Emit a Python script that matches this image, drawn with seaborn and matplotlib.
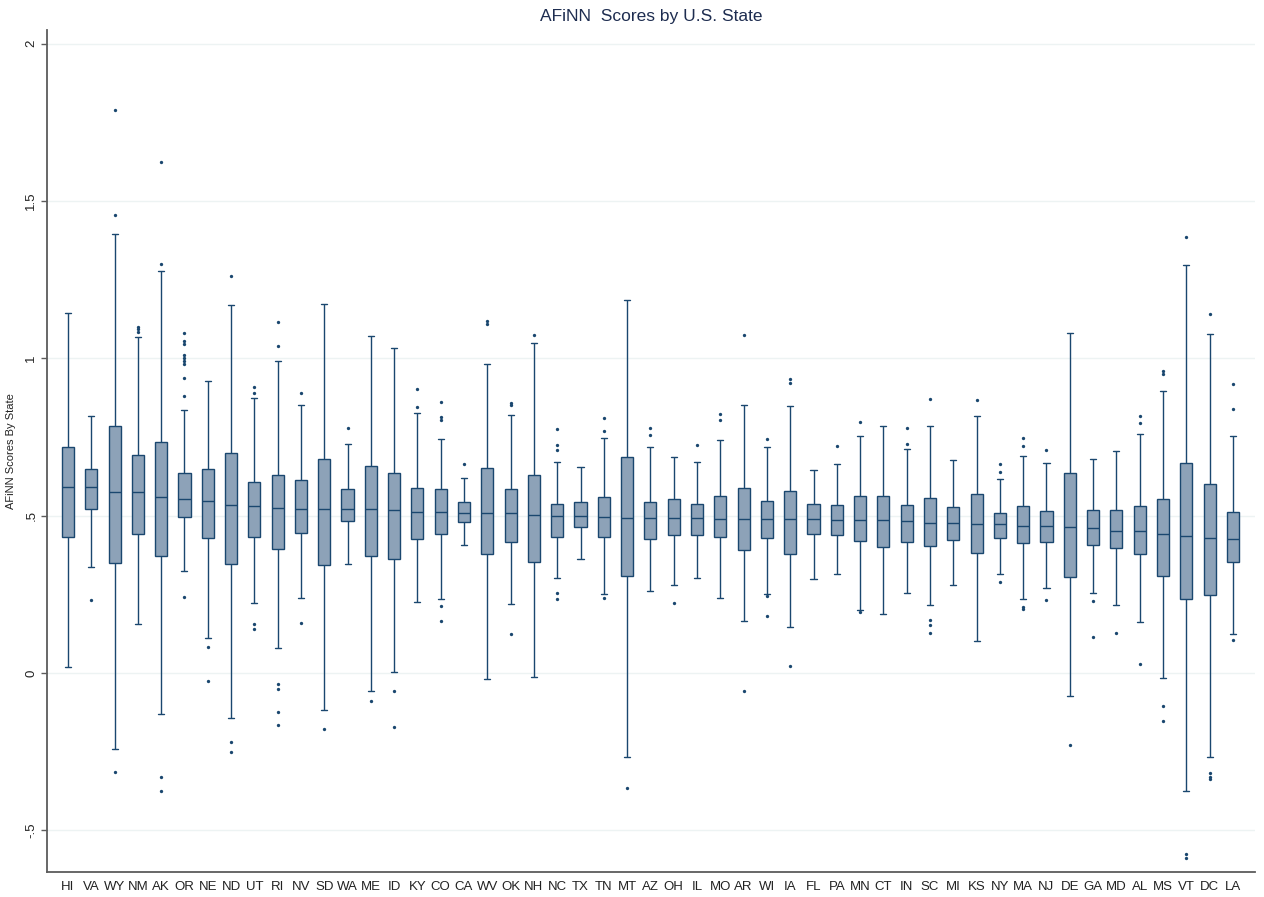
import numpy as np
import pandas as pd
import matplotlib
matplotlib.use("Agg")
import matplotlib.pyplot as plt
import seaborn as sns

states = ["HI","VA","WY","NM","AK","OR","NE","ND","UT","RI","NV","SD","WA","ME","ID","KY","CO","CA",
          "WV","OK","NH","NC","TX","TN","MT","AZ","OH","IL","MO","AR","WI","IA","FL","PA","MN","CT",
          "IN","SC","MI","KS","NY","MA","NJ","DE","GA","MD","AL","MS","VT","DC","LA"]

whisker_low = [0.018, 0.338, -0.240, 0.157, -0.129, 0.324, 0.112, -0.144, 0.223, 0.079, 0.239, -0.118,
               0.345, -0.058, 0.003, 0.226, 0.236, 0.408, -0.020, 0.220, -0.012, 0.303, 0.361, 0.252,
               -0.266, 0.262, 0.281, 0.303, 0.238, 0.166, 0.250, 0.146, 0.300, 0.315, 0.200, 0.187,
               0.255, 0.217, 0.281, 0.101, 0.316, 0.236, 0.270, -0.073, 0.253, 0.216, 0.161, -0.016,
               -0.376, -0.266, 0.125]
quart1 = [0.431, 0.520, 0.350, 0.442, 0.372, 0.495, 0.429, 0.346, 0.432, 0.393, 0.444, 0.342,
          0.483, 0.373, 0.361, 0.426, 0.441, 0.479, 0.379, 0.417, 0.353, 0.433, 0.465, 0.433,
          0.307, 0.427, 0.438, 0.438, 0.431, 0.391, 0.429, 0.379, 0.441, 0.439, 0.419, 0.402,
          0.417, 0.404, 0.423, 0.381, 0.430, 0.413, 0.415, 0.305, 0.406, 0.397, 0.379, 0.307,
          0.235, 0.247, 0.352]
medians = [0.591, 0.590, 0.574, 0.574, 0.560, 0.554, 0.547, 0.534, 0.530, 0.523, 0.522, 0.522,
           0.522, 0.520, 0.518, 0.513, 0.511, 0.508, 0.508, 0.507, 0.501, 0.499, 0.499, 0.495,
           0.493, 0.494, 0.494, 0.492, 0.490, 0.488, 0.488, 0.488, 0.488, 0.485, 0.485, 0.485,
           0.483, 0.478, 0.476, 0.473, 0.473, 0.468, 0.466, 0.464, 0.462, 0.451, 0.450, 0.441,
           0.434, 0.430, 0.426]
quart3 = [0.719, 0.648, 0.786, 0.694, 0.733, 0.637, 0.647, 0.699, 0.608, 0.630, 0.613, 0.679,
          0.584, 0.659, 0.637, 0.589, 0.584, 0.543, 0.652, 0.585, 0.630, 0.537, 0.543, 0.558,
          0.686, 0.545, 0.553, 0.538, 0.561, 0.588, 0.547, 0.577, 0.537, 0.533, 0.563, 0.562,
          0.534, 0.555, 0.528, 0.568, 0.509, 0.532, 0.515, 0.635, 0.518, 0.518, 0.532, 0.554,
          0.667, 0.600, 0.513]
whisker_high = [1.143, 0.816, 1.396, 1.067, 1.278, 0.836, 0.929, 1.168, 0.874, 0.991, 0.852, 1.174,
                0.729, 1.070, 1.032, 0.825, 0.745, 0.621, 0.981, 0.820, 1.048, 0.671, 0.655, 0.748,
                1.184, 0.718, 0.686, 0.671, 0.740, 0.852, 0.717, 0.847, 0.646, 0.663, 0.752, 0.786,
                0.713, 0.785, 0.677, 0.817, 0.618, 0.691, 0.667, 1.081, 0.679, 0.704, 0.759, 0.896,
                1.297, 1.076, 0.754]
outliers = [
    [], [0.232], [1.454, 1.789, -0.314], [1.085, 1.092, 1.100], [1.299, 1.625, -0.329, -0.376],
    [0.880, 0.937, 0.981, 0.992, 1.000, 1.010, 1.045, 1.055, 1.079, 0.243], [0.084, -0.026],
    [1.262, -0.220, -0.251], [0.889, 0.909, 0.156, 0.139], [1.040, 1.114, -0.036, -0.050, -0.125, -0.164],
    [0.890, 0.160], [-0.179], [0.780], [-0.089], [-0.058, -0.170], [0.846, 0.901],
    [0.804, 0.813, 0.862, 0.213, 0.166], [0.663], [1.110, 1.118], [0.852, 0.858, 0.125], [1.075],
    [0.709, 0.725, 0.774, 0.253, 0.235], [], [0.768, 0.809, 0.240], [-0.366], [0.756, 0.779], [0.222],
    [0.725], [0.804, 0.824], [1.074, -0.057], [0.744, 0.246, 0.182], [0.922, 0.935, 0.022], [],
    [0.722], [0.798, 0.195], [], [0.729, 0.779], [0.870, 0.170, 0.153, 0.126], [], [0.867],
    [0.640, 0.664, 0.288], [0.722, 0.748, 0.211, 0.202], [0.708, 0.232], [-0.229], [0.228, 0.115],
    [0.126], [0.795, 0.817, 0.029], [0.951, 0.961, -0.106, -0.153], [1.386, -0.576, -0.589],
    [1.140, -0.319, -0.329, -0.338], [0.838, 0.918, 0.105],
]

ytick_vals = [-0.5, 0, 0.5, 1, 1.5, 2]
ytick_labels = ["-.5", "0", ".5", "1", "1.5", "2"]

# Long-form data: each state's five-number summary (whiskers span min..max)
rows = []
for s, lo, a, m, b, hi in zip(states, whisker_low, quart1, medians, quart3, whisker_high):
    for v in (lo, a, m, b, hi):
        rows.append({"state": s, "score": v})
core_df = pd.DataFrame(rows)
out_df = pd.DataFrame([{"state": s, "score": v} for s, vals in zip(states, outliers) for v in vals])

sns.set_theme(style="white")
plt.rcParams["font.family"] = ["Liberation Sans", "DejaVu Sans"]

NAVY = "#1a476f"
FILL = "#8da2b8"

fig = plt.figure(figsize=(12.64, 8.97), dpi=100)
ax = fig.add_axes([47 / 1264, 1 - 871.7 / 897, (1255 - 47) / 1264, (871.7 - 30) / 897])

sns.boxplot(data=core_df, x="state", y="score", order=states, whis=np.inf,
            color=FILL, saturation=1, linecolor=NAVY, linewidth=1.0, width=0.52,
            showfliers=False, ax=ax)
sns.stripplot(data=out_df, x="state", y="score", order=states, jitter=False,
              color=NAVY, size=2.4, linewidth=0, ax=ax)

ax.set_xlim(-0.9, 50.95)
ax.set_ylim(-0.631, 2.043)
ax.set_yticks(ytick_vals)
ax.set_yticklabels(ytick_labels)
ax.yaxis.grid(True, color="#edf3f3", linewidth=1.0)
ax.xaxis.grid(False)
ax.set_axisbelow(True)

for sp in ["top", "right"]:
    ax.spines[sp].set_visible(False)
for sp in ["left", "bottom"]:
    ax.spines[sp].set_color("#5c5c5c")
    ax.spines[sp].set_linewidth(1.3)

ax.tick_params(axis="x", length=0, pad=7, labelsize=9.5, colors="#222222")
ax.tick_params(axis="y", length=4, width=1, color="#5c5c5c", pad=3, labelsize=9.5, labelcolor="#222222", left=True)
for lab in ax.get_xticklabels():
    lab.set_family(["Liberation Sans Narrow", "Liberation Sans", "DejaVu Sans"])
for lab in ax.get_yticklabels():
    lab.set_rotation(90)
    lab.set_va("center")

ax.set_xlabel("")
ax.set_ylabel("AFiNN Scores By State", fontsize=8, color="#222222", labelpad=7)

fig.text(651 / 1264, 1 - 17 / 897, "AFiNN  Scores by U.S. State", ha="center", va="center",
         fontsize=12.5, color="#1e2d50")

fig.savefig("out.png", dpi=100, facecolor="white")
